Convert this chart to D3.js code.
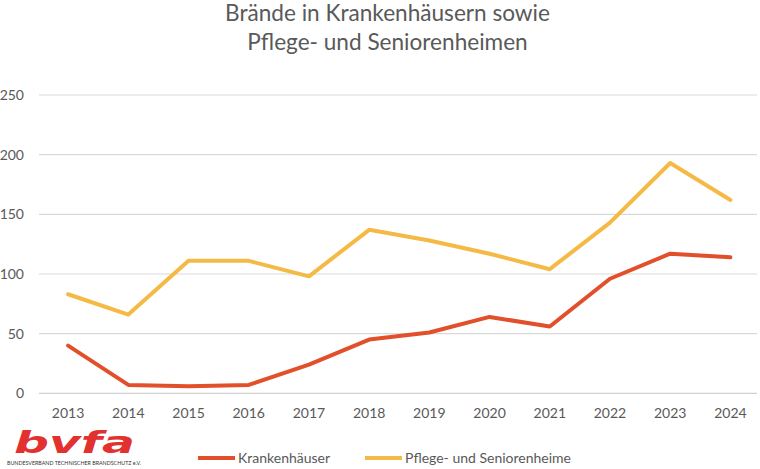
<!DOCTYPE html>
<html><head><meta charset="utf-8">
<script src="https://cdn.jsdelivr.net/npm/d3@7"></script>
<style>body{margin:0;background:#fff;} svg{display:block;font-family:Lato, "Open Sans", sans-serif;}</style>
</head><body><svg id="c" width="760" height="469"></svg>
<script>
const years = ["2013","2014","2015","2016","2017","2018","2019","2020","2021","2022","2023","2024"];
const krankenhaeuser = [40,7,6,7,24,45,51,64,56,96,117,114];
const pflege = [83,66,111,111,98,137,128,117,104,143,193,162];
const yTicks = [0,50,100,150,200,250];
const seriesNames = ["Krankenhäuser","Pflege- und Seniorenheime"];
const titleLines = ["Brände in Krankenhäusern sowie","Pflege- und Seniorenheimen"];

const svg = d3.select("#c");
const x = d3.scaleBand().domain(years).range([38, 760.5]);
const y = d3.scaleLinear().domain([0,250]).range([393.3, 95]);
const colors = ["#E1502A","#F5BA45"];

// gridlines
svg.append("g").selectAll("line").data(yTicks).join("line")
  .attr("x1",39).attr("x2",757).attr("y1",d=>y(d)).attr("y2",d=>y(d))
  .attr("stroke",d=>d===0?"#d0d0d0":"#d9d9d9").attr("stroke-width",1.2);

// y labels
svg.append("g").selectAll("text").data(yTicks).join("text")
  .attr("x",24).attr("y",d=>y(d)).attr("dy","0.35em").attr("text-anchor","end")
  .attr("font-size",14).attr("fill","#595959").text(d=>d);

// x labels
svg.append("g").selectAll("text").data(years).join("text")
  .attr("x",d=>x(d)+x.bandwidth()/2).attr("y",418).attr("text-anchor","middle")
  .attr("font-size",14).attr("fill","#595959").text(d=>d);

// title
svg.append("g").selectAll("text").data(titleLines).join("text")
  .attr("x",387.5).attr("y",(d,i)=>21+i*28.5).attr("text-anchor","middle")
  .attr("font-size",22.6).attr("fill","#595959").text(d=>d);

// lines
const line = d3.line().x((d,i)=>x(years[i])+x.bandwidth()/2).y(d=>y(d));
[krankenhaeuser,pflege].forEach((s,k)=>{
  svg.append("path").datum(s).attr("d",line).attr("fill","none")
    .attr("stroke",colors[k]).attr("stroke-width",4).attr("stroke-linejoin","round").attr("stroke-linecap","round");
});

// legend
const legX = [198,365];
seriesNames.forEach((n,k)=>{
  svg.append("line").attr("x1",legX[k]).attr("x2",legX[k]+37).attr("y1",458).attr("y2",458)
    .attr("stroke",colors[k]).attr("stroke-width",4);
  svg.append("text").attr("x",legX[k]+40).attr("y",458).attr("dy","0.35em")
    .attr("font-size",14).attr("fill","#595959").text(n);
});

// logo
svg.append("text").attr("x",14).attr("y",453).attr("font-size",31).attr("font-weight",900)
  .attr("font-style","italic").attr("fill","#E2312F").attr("textLength",121).attr("lengthAdjust","spacingAndGlyphs")
  .attr("font-family","'DejaVu Sans', sans-serif").text("bvfa");
svg.append("text").attr("x",7).attr("y",465).attr("font-size",6).attr("fill","#333")
  .attr("textLength",134).attr("lengthAdjust","spacingAndGlyphs").text("BUNDESVERBAND TECHNISCHER BRANDSCHUTZ e.V.");
</script></body></html>
